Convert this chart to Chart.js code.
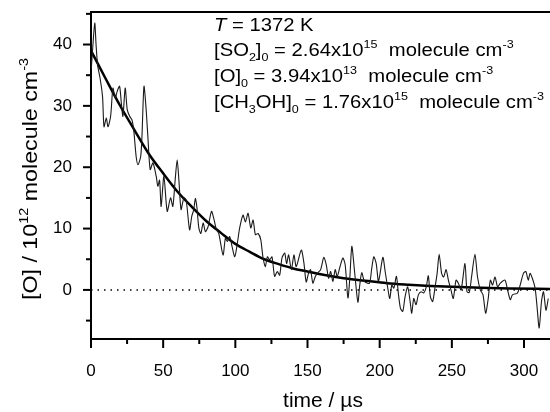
<!DOCTYPE html>
<html>
<head>
<meta charset="utf-8">
<script src="https://cdn.jsdelivr.net/npm/chart.js@4.4.1/dist/chart.umd.min.js"></script>
<style>
  html, body { margin: 0; padding: 0; background: #fff; }
  #wrap { width: 550px; height: 412px; }
</style>
</head>
<body>
<div id="wrap"><canvas id="chart" width="550" height="412"></canvas></div>
<script>
// measured [O] trace (time in us, [O] in 1e12 molecule cm-3)
var traceTime = [
    0.2, 1.2, 2.6, 3.5, 4.6, 6.3, 8.0, 9.0, 10.6, 11.8, 13.6, 15.2, 16.8, 18.2, 19.8,
    21.0, 22.1, 23.7, 25.1, 26.8, 28.4, 29.7, 31.3, 32.5, 34.4, 35.3, 36.7, 38.2, 39.4,
    41.0, 42.9, 45.2, 46.3, 47.5, 48.6, 50.5, 52.8, 55.1, 56.7, 58.3, 59.7, 60.9, 62.4,
    64.3, 65.9, 68.3, 69.8, 71.2, 72.3, 73.4, 74.7, 76.1, 77.7, 79.3, 81.1, 83.5, 85.3,
    86.9, 88.5, 91.5, 93.1, 94.5, 96.1, 97.7, 99.6, 101.4, 103.0, 105.3, 107.0, 108.8,
    110.7, 112.3, 113.9, 115.7, 117.6, 119.2, 120.8, 122.2, 123.8, 125.4, 127.2, 129.1,
    130.7, 132.3, 134.2, 135.5, 136.9, 138.8, 140.6, 142.2, 145.7, 147.5, 149.1, 150.8,
    152.1, 153.7, 155.4, 157.2, 159.1, 161.3, 163.0, 164.6, 166.0, 167.6, 169.2, 170.6,
    172.2, 174.5, 176.1, 178.0, 179.3, 180.7, 182.6, 184.9, 186.2, 187.6, 189.5, 192.9,
    194.5, 195.9, 197.6, 199.2, 202.2, 203.8, 205.6, 207.0, 208.4, 209.8, 211.6, 213.0,
    214.4, 216.0, 217.6, 219.4, 221.1, 222.2, 223.6, 225.2, 226.8, 228.7, 230.5, 232.2,
    233.7, 235.1, 236.7, 238.4, 239.8, 241.2, 242.9, 244.3, 246.0, 247.6, 249.4, 251.0,
    252.9, 254.5, 256.4, 259.1, 260.5, 262.1, 263.7, 266.0, 267.8, 269.7, 271.6, 273.4,
    275.2, 276.7, 278.2, 279.9, 281.7, 283.6, 286.8, 288.6, 290.5, 292.0, 295.5, 299.6,
    301.3, 302.9, 304.3, 307.5, 308.9, 310.5, 312.1, 313.5, 315.2, 316.8
];
var traceO = [
    36.0, 39.5, 43.5, 40.0, 36.6, 34.5, 31.5, 26.6, 28.0, 26.6, 28.3, 32.9, 31.3, 32.4, 33.2,
    30.5, 28.3, 32.9, 29.4, 28.3, 27.7, 25.8, 21.7, 20.4, 21.7, 25.0, 33.2, 29.4, 25.0,
    19.6, 20.7, 18.5, 16.9, 17.9, 13.6, 18.5, 12.8, 15.0, 13.6, 17.9, 21.2, 17.9, 13.1,
    15.0, 14.7, 9.8, 12.0, 13.1, 14.9, 13.4, 10.1, 9.2, 10.9, 9.5, 10.3, 12.8, 11.4,
    9.8, 9.2, 5.7, 8.4, 7.9, 8.7, 7.1, 5.4, 7.6, 10.1, 12.2, 11.1, 12.5,
    10.1, 11.4, 9.0, 9.2, 8.2, 5.2, 3.8, 5.4, 4.9, 5.4, 2.2, 3.0,
    2.4, 5.2, 6.0, 4.3, 5.7, 3.3, 5.7, 3.8, 6.5, 4.4, 1.3, 2.8,
    3.3, 1.1, 2.2, 2.8, 3.3, 5.3, 4.1, 1.9, 3.0, 1.4, 3.3, 2.2,
    3.5, 5.2, 4.1, -1.3, 1.9, 7.1, 3.0, -2.0, 0.8, 2.8, 1.4, 1.1,
    3.5, 5.4, 4.3, 1.4, 5.3, 3.0, 0.3, -1.4, 0.8, 0.3, 2.2, -0.7,
    -3.0, -3.5, -1.1, 0.5, -1.9, -3.8, -1.4, -2.4, -0.8, -0.3, -0.5, 0.4,
    2.3, -1.1, -1.9, 0.5, 2.7, 5.8, 2.7, 2.1, 3.3, 1.6, 0.0, -1.4,
    1.6, 1.1, 0.0, 4.3, -0.3, -0.4, 2.2, 5.8, 2.1, 0.0, -0.8, -3.8,
    -1.4, 1.6, 0.8, 2.1, 0.5, 1.1, 1.6, 0.0, -1.6, -0.8, -0.5, 2.7,
    3.0, 1.6, 2.7, 0.5, -2.4, -6.2, -1.9, -0.3, -3.3, -1.4
];

// fitted decay curve
var fitTime = [0, 10, 20, 30, 40, 50, 60, 70, 80, 90, 100, 110, 120, 130, 140, 150,
    160, 175, 190, 205, 220, 235, 250, 270, 290, 318];
var fitO = [39.0, 34.5, 30.1, 26.1, 22.2, 19.0, 16.0, 13.5, 11.2, 9.3, 7.5, 6.2, 5.0, 4.2,
    3.5, 3.0, 2.5, 1.9, 1.5, 1.1, 0.85, 0.65, 0.5, 0.35, 0.25, 0.15];

var baselineTime = [0, 318];
var baselineO = [0, 0];

var xTicks = [0, 50, 100, 150, 200, 250, 300];
var yTicks = [0, 10, 20, 30, 40];

var FONT = '"Liberation Sans", Arial, Helvetica, sans-serif';

function toPoints(xs, ys) {
    return xs.map(function (x, i) { return { x: x, y: ys[i] }; });
}

// text pieces: s = 'sub' | 'sup', i = italic
var annotations = [
    [{ t: 'T', i: true }, { t: ' = 1372 K' }],
    [{ t: '[SO' }, { t: '2', s: 'sub' }, { t: ']' }, { t: '0', s: 'sub' }, { t: ' = 2.64x10' }, { t: '15', s: 'sup' }, { t: '  molecule cm' }, { t: '-3', s: 'sup' }],
    [{ t: '[O]' }, { t: '0', s: 'sub' }, { t: ' = 3.94x10' }, { t: '13', s: 'sup' }, { t: '  molecule cm' }, { t: '-3', s: 'sup' }],
    [{ t: '[CH' }, { t: '3', s: 'sub' }, { t: 'OH]' }, { t: '0', s: 'sub' }, { t: ' = 1.76x10' }, { t: '15', s: 'sup' }, { t: '  molecule cm' }, { t: '-3', s: 'sup' }]
];
var yTitle = [{ t: '[O] / 10' }, { t: '12', s: 'sup' }, { t: ' molecule cm' }, { t: '-3', s: 'sup' }];

function richWidth(ctx, parts, size) {
    var w = 0;
    parts.forEach(function (p) {
        var fs = p.s ? size * 0.62 : size;
        ctx.font = (p.i ? 'italic ' : '') + fs + 'px ' + FONT;
        w += ctx.measureText(p.t).width;
    });
    return w;
}

function drawRich(ctx, x, y, parts, size) {
    parts.forEach(function (p) {
        var fs = p.s ? size * 0.62 : size;
        ctx.font = (p.i ? 'italic ' : '') + fs + 'px ' + FONT;
        var dy = p.s === 'sub' ? size * 0.25 : (p.s === 'sup' ? -size * 0.45 : 0);
        ctx.fillText(p.t, x, y + dy);
        x += ctx.measureText(p.t).width;
    });
}

// Chart.js reserves room for the end labels; the figure has none of that
function fixedSize(w, h) {
    return function (scale) {
        if (w) scale.width = w;
        if (h) scale.height = h;
        scale.paddingTop = 0;
        scale.paddingBottom = 0;
        scale.paddingLeft = 0;
        scale.paddingRight = 0;
    };
}

var framePlugin = {
    id: 'frame',
    afterDraw: function (chart) {
        var ctx = chart.ctx;
        var area = chart.chartArea;
        var xs = chart.scales.x;
        var ys = chart.scales.y;
        ctx.save();
        ctx.strokeStyle = '#000';
        ctx.lineWidth = 2;
        ctx.lineCap = 'butt';

        // top frame line
        ctx.beginPath();
        ctx.moveTo(area.left - 1, area.top);
        ctx.lineTo(area.right, area.top);
        ctx.stroke();

        // x ticks, major every 50, minor every 25
        for (var v = 0; v <= xs.max; v += 25) {
            var px = xs.getPixelForValue(v);
            var len = v % 50 === 0 ? 9 : 5;
            ctx.beginPath();
            ctx.moveTo(px, area.bottom);
            ctx.lineTo(px, area.bottom + len);
            ctx.stroke();
        }
        // y ticks, major every 10, minor every 5
        for (var w = -5; w <= ys.max; w += 5) {
            var py = ys.getPixelForValue(w);
            var ylen = w % 10 === 0 ? 8 : 5;
            ctx.beginPath();
            ctx.moveTo(area.left, py);
            ctx.lineTo(area.left - ylen, py);
            ctx.stroke();
        }

        ctx.fillStyle = '#000';
        ctx.textBaseline = 'alphabetic';
        ctx.textAlign = 'left';

        // annotation block, stretched to the width seen in the figure
        var size = 18;
        var sx = 330 / richWidth(ctx, annotations[3], size);
        var baselines = [31, 56, 82, 108];
        annotations.forEach(function (parts, i) {
            ctx.save();
            ctx.translate(214, baselines[i]);
            ctx.scale(sx, 1);
            drawRich(ctx, 0, 0, parts, size);
            ctx.restore();
        });

        // x axis title
        ctx.font = '21px ' + FONT;
        ctx.textAlign = 'center';
        ctx.fillText('time / \u00b5s', 323, 407);

        // y axis title, rotated
        ctx.textAlign = 'left';
        var tSize = 21;
        var tw = richWidth(ctx, yTitle, tSize);
        ctx.save();
        ctx.translate(37, 179);
        ctx.rotate(-Math.PI / 2);
        ctx.scale(242 / tw, 1);
        drawRich(ctx, -tw / 2, 0, yTitle, tSize);
        ctx.restore();

        ctx.restore();
    }
};

new Chart(document.getElementById('chart').getContext('2d'), {
    type: 'scatter',
    data: {
        datasets: [
            {
                label: 'baseline',
                data: toPoints(baselineTime, baselineO),
                showLine: true,
                borderColor: '#000',
                borderWidth: 1.5,
                borderDash: [1.5, 5],
                pointRadius: 0
            },
            {
                label: '[O] trace',
                data: toPoints(traceTime, traceO),
                showLine: true,
                borderColor: '#1a1a1a',
                borderWidth: 1.1,
                tension: 0.25,
                pointRadius: 0
            },
            {
                label: 'fit',
                data: toPoints(fitTime, fitO),
                showLine: true,
                borderColor: '#000',
                borderWidth: 2.5,
                cubicInterpolationMode: 'monotone',
                pointRadius: 0
            }
        ]
    },
    options: {
        responsive: false,
        animation: false,
        layout: { padding: { top: 12, right: 0, left: 0, bottom: 0 } },
        plugins: {
            legend: { display: false },
            tooltip: { enabled: false }
        },
        scales: {
            x: {
                type: 'linear',
                min: 0,
                max: 318,
                afterFit: fixedSize(0, 73),
                afterBuildTicks: function (scale) {
                    scale.ticks = xTicks.map(function (v) { return { value: v }; });
                },
                grid: { display: false, drawTicks: false },
                border: { display: true, color: '#000', width: 2 },
                ticks: {
                    color: '#000',
                    padding: 22,
                    maxRotation: 0,
                    autoSkip: false,
                    font: { family: FONT, size: 17 }
                }
            },
            y: {
                type: 'linear',
                min: -8,
                max: 45.3,
                afterFit: fixedSize(91, 0),
                afterBuildTicks: function (scale) {
                    scale.ticks = yTicks.map(function (v) { return { value: v }; });
                },
                grid: { display: false, drawTicks: false },
                border: { display: true, color: '#000', width: 2 },
                ticks: {
                    color: '#000',
                    padding: 19,
                    autoSkip: false,
                    font: { family: FONT, size: 17 }
                }
            }
        }
    },
    plugins: [framePlugin]
});
</script>
</body>
</html>
